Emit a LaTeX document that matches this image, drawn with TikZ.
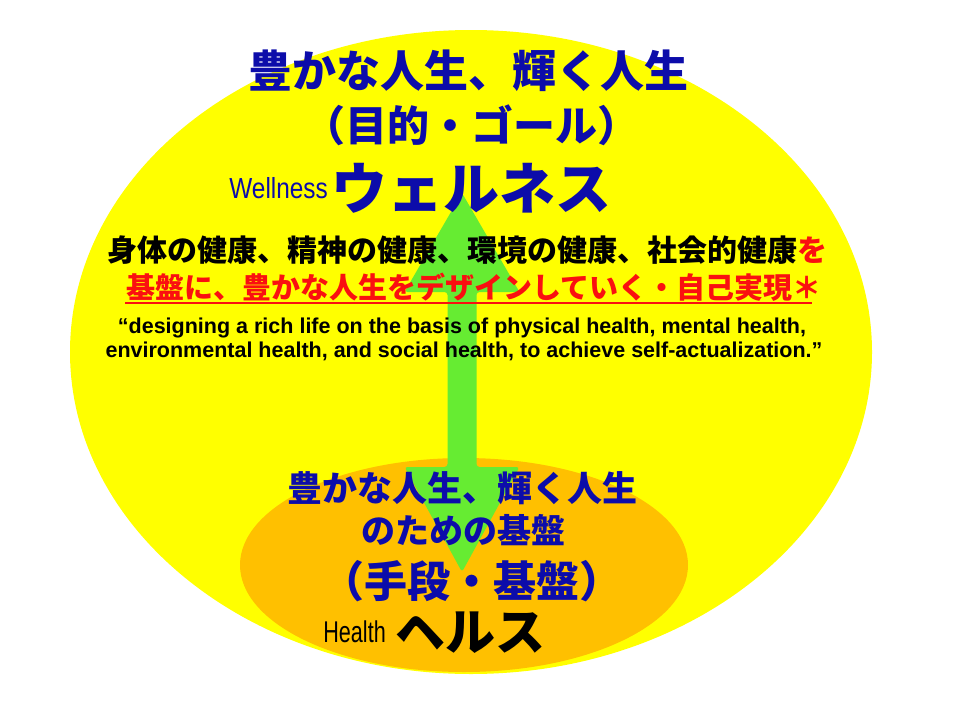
\documentclass[tikz,border=0pt]{standalone}
\usepackage{fontspec}
\usetikzlibrary{shapes.geometric}

\newfontfamily\jp{Noto Sans CJK JP}
\newfontfamily\en{Liberation Sans}
\newfontfamily\ensmall{Liberation Sans}[FakeStretch=0.84]
\newfontfamily\enhealth{Liberation Sans}[FakeStretch=0.72]

\definecolor{goalblue}{RGB}{12,12,170}
\definecolor{fieldyellow}{RGB}{255,255,0}
\definecolor{baseorange}{RGB}{255,192,0}
\definecolor{arrowgreen}{RGB}{102,236,50}
\definecolor{textred}{RGB}{250,16,16}

\tikzset{
    jp/.style={inner sep=0pt, font=\jp\bfseries\fontsize{#1}{#1}\selectfont},
    blob/.style={ellipse, inner sep=0pt, draw=none}
}

\begin{document}
\begin{tikzpicture}[x=1pt, y=-1pt]
        \useasboundingbox (0, 0) rectangle (960, 720);
        \fill[white] (0, 0) rectangle (960, 720);

        % the two fields
        \node[blob, fill=fieldyellow, minimum width=802pt, minimum height=644pt] at (471, 352) (wellfield) {};
        \node[blob, fill=baseorange, minimum width=448pt, minimum height=214pt] at (464, 565) (healthfield) {};

        % double block arrow
        \fill[arrowgreen, rounded corners=3pt]
            (462, 193) -- (519.5, 292) -- (476.5, 292) -- (476.5, 467) -- (519.5, 467)
            -- (462, 572) -- (404.5, 467) -- (447.5, 467) -- (447.5, 292) -- (404.5, 292) -- cycle;

        % goal side
        \node[jp=44, text=goalblue] at (468, 71)   (goal1) {豊かな人生、輝く人生};
        \node[jp=42, text=goalblue] at (471, 125)  (goal2) {（目的・ゴール）};
        \node[jp=56, text=goalblue] at (471, 188)  (wellja) {ウェルネス};
        \node[inner sep=0pt, anchor=base east, text=goalblue, font=\ensmall\fontsize{29}{29}\selectfont] at (328, 198) (wellen) {Wellness};

        \node[jp=30] at (467, 250) (def1) {身体の健康、精神の健康、環境の健康、社会的健康\textcolor{textred}{を}};
        \node[jp=29, text=textred] at (474, 287) (def2) {基盤に、豊かな人生をデザインしていく・自己実現＊};
        \coordinate (ulstart) at (125, 303);
        \coordinate (ulend) at (812, 303);
        \draw[textred, line width=2pt] (ulstart) -- (ulend);

        \node[inner sep=0pt, anchor=base, font=\en\bfseries\fontsize{21.5}{21.5}\selectfont] at (462, 333) (quote1)
            {“designing a rich life on the basis of physical health, mental health,};
        \node[inner sep=0pt, anchor=base, font=\en\bfseries\fontsize{21.5}{21.5}\selectfont] at (464, 357) (quote2)
            {environmental health, and social health, to achieve self-actualization.”};

        % base side
        \node[jp=35, text=goalblue] at (462, 488) (base1) {豊かな人生、輝く人生};
        \node[jp=34, text=goalblue] at (463, 530) (base2) {のための基盤};
        \node[jp=43, text=goalblue] at (472, 581) (base3) {（手段・基盤）};
        \node[jp=50] at (470, 633) (healthja) {ヘルス};
        \node[inner sep=0pt, anchor=base east, font=\enhealth\fontsize{30}{30}\selectfont] at (386, 642) (healthen) {Health};
    \end{tikzpicture}
\end{document}
